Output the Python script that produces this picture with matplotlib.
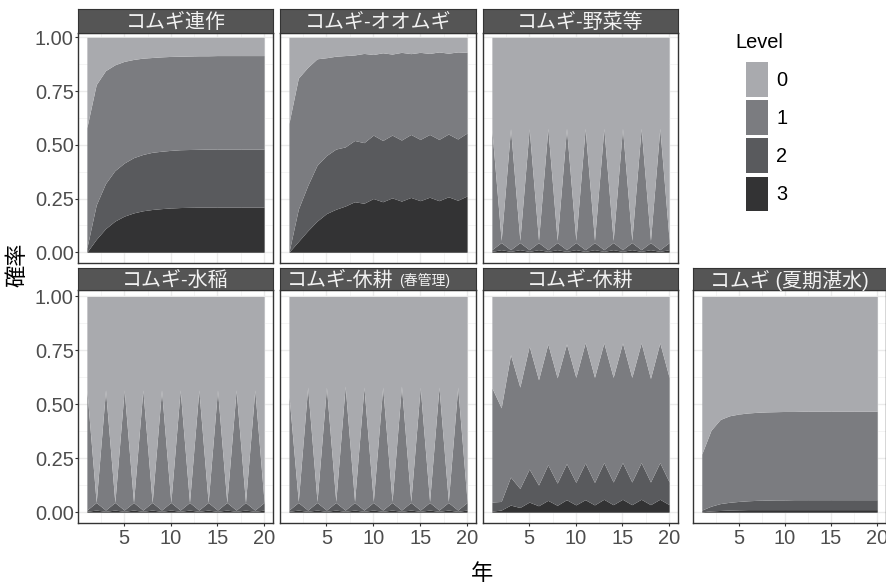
import matplotlib.pyplot as plt
from matplotlib.patches import Patch
from matplotlib.ticker import MultipleLocator

plt.rcParams['font.family'] = ['Liberation Sans', 'Noto Sans CJK JP']

# 年 (x軸)
years = list(range(1, 21))

# 各パネル: ge1 = P(Level>=1), ge2 = P(Level>=2), ge3 = P(Level=3)
renzaku_ge1 = [0.58, 0.78, 0.845, 0.872, 0.888, 0.897, 0.903, 0.906, 0.909, 0.911,
               0.912, 0.913, 0.914, 0.914, 0.915, 0.915, 0.915, 0.915, 0.915, 0.915]
renzaku_ge2 = [0.02, 0.22, 0.32, 0.38, 0.415, 0.44, 0.455, 0.465, 0.47, 0.474,
               0.477, 0.478, 0.479, 0.48, 0.48, 0.48, 0.48, 0.48, 0.48, 0.48]
renzaku_ge3 = [0.0, 0.06, 0.11, 0.145, 0.168, 0.183, 0.193, 0.199, 0.203, 0.206,
               0.208, 0.209, 0.21, 0.21, 0.21, 0.21, 0.21, 0.21, 0.21, 0.21]

oomugi_ge1 = [0.6, 0.81, 0.86, 0.9, 0.905, 0.912, 0.915, 0.918, 0.925, 0.92,
              0.928, 0.922, 0.93, 0.924, 0.93, 0.925, 0.932, 0.926, 0.932, 0.93]
oomugi_ge2 = [0.0, 0.2, 0.31, 0.405, 0.45, 0.48, 0.49, 0.52, 0.51, 0.545,
              0.52, 0.545, 0.522, 0.548, 0.525, 0.548, 0.525, 0.55, 0.527, 0.555]
oomugi_ge3 = [0.0, 0.05, 0.1, 0.145, 0.18, 0.2, 0.215, 0.235, 0.228, 0.25,
              0.235, 0.253, 0.238, 0.255, 0.24, 0.256, 0.24, 0.258, 0.242, 0.262]

yasai_ge1 = [0.57, 0.055, 0.575, 0.055, 0.575, 0.055, 0.577, 0.055, 0.577, 0.055,
             0.577, 0.055, 0.577, 0.055, 0.577, 0.055, 0.577, 0.055, 0.577, 0.055]
yasai_ge2 = [0.012, 0.045, 0.012, 0.045, 0.012, 0.045, 0.012, 0.045, 0.012, 0.045,
             0.012, 0.045, 0.012, 0.045, 0.012, 0.045, 0.012, 0.045, 0.012, 0.045]
yasai_ge3 = [0.004, 0.012, 0.004, 0.012, 0.004, 0.012, 0.004, 0.012, 0.004, 0.012,
             0.004, 0.012, 0.004, 0.012, 0.004, 0.012, 0.004, 0.012, 0.004, 0.012]

suitou_ge1 = [0.567, 0.045, 0.567, 0.045, 0.567, 0.045, 0.567, 0.045, 0.567, 0.045,
              0.567, 0.045, 0.567, 0.045, 0.567, 0.045, 0.567, 0.045, 0.567, 0.045]
suitou_ge2 = [0.01, 0.045, 0.01, 0.045, 0.01, 0.045, 0.01, 0.045, 0.01, 0.045,
              0.01, 0.045, 0.01, 0.045, 0.01, 0.045, 0.01, 0.045, 0.01, 0.045]
suitou_ge3 = [0.004, 0.01, 0.004, 0.01, 0.004, 0.01, 0.004, 0.01, 0.004, 0.01,
              0.004, 0.01, 0.004, 0.01, 0.004, 0.01, 0.004, 0.01, 0.004, 0.01]

harukyu_ge1 = [0.545, 0.05, 0.58, 0.05, 0.58, 0.05, 0.585, 0.05, 0.58, 0.05,
               0.58, 0.05, 0.585, 0.05, 0.58, 0.05, 0.58, 0.05, 0.58, 0.05]
harukyu_ge2 = [0.01, 0.045, 0.01, 0.045, 0.01, 0.045, 0.01, 0.045, 0.01, 0.045,
               0.01, 0.045, 0.01, 0.045, 0.01, 0.045, 0.01, 0.045, 0.01, 0.045]
harukyu_ge3 = [0.004, 0.01, 0.004, 0.01, 0.004, 0.01, 0.004, 0.01, 0.004, 0.01,
               0.004, 0.01, 0.004, 0.01, 0.004, 0.01, 0.004, 0.01, 0.004, 0.01]

kyukou_ge1 = [0.577, 0.484, 0.73, 0.58, 0.77, 0.614, 0.78, 0.623, 0.78, 0.625,
              0.786, 0.625, 0.785, 0.625, 0.785, 0.625, 0.785, 0.62, 0.785, 0.625]
kyukou_ge2 = [0.047, 0.05, 0.163, 0.11, 0.2, 0.126, 0.22, 0.135, 0.225, 0.138,
              0.228, 0.138, 0.23, 0.14, 0.23, 0.14, 0.23, 0.14, 0.23, 0.14]
kyukou_ge3 = [0.005, 0.01, 0.033, 0.022, 0.047, 0.03, 0.055, 0.032, 0.058, 0.034,
              0.058, 0.034, 0.06, 0.035, 0.06, 0.035, 0.06, 0.035, 0.06, 0.035]

tansui_ge1 = [0.27, 0.38, 0.43, 0.447, 0.455, 0.46, 0.463, 0.465, 0.466, 0.467,
              0.467, 0.468, 0.468, 0.468, 0.468, 0.468, 0.468, 0.468, 0.468, 0.468]
tansui_ge2 = [0.01, 0.028, 0.04, 0.046, 0.05, 0.053, 0.055, 0.056, 0.057, 0.057,
              0.058, 0.058, 0.058, 0.058, 0.058, 0.058, 0.058, 0.058, 0.058, 0.058]
tansui_ge3 = [0.002, 0.006, 0.008, 0.01, 0.011, 0.012, 0.012, 0.012, 0.012, 0.012,
              0.012, 0.012, 0.012, 0.012, 0.012, 0.012, 0.012, 0.012, 0.012, 0.012]

levels = ['0', '1', '2', '3']
level_colors = ['#a9aaae', '#7b7c80', '#595a5d', '#333334']

y_ticks = [0, 0.25, 0.5, 0.75, 1.0]
y_tick_labels = ['0.00', '0.25', '0.50', '0.75', '1.00']
x_ticks = [5, 10, 15, 20]

# (タイトル, データ, 行, 列)
panels = [
    ('コムギ連作', renzaku_ge1, renzaku_ge2, renzaku_ge3, 0, 0),
    ('コムギ-オオムギ', oomugi_ge1, oomugi_ge2, oomugi_ge3, 0, 1),
    ('コムギ-野菜等', yasai_ge1, yasai_ge2, yasai_ge3, 0, 2),
    ('コムギ-水稲', suitou_ge1, suitou_ge2, suitou_ge3, 1, 0),
    ('コムギ-休耕', harukyu_ge1, harukyu_ge2, harukyu_ge3, 1, 1),
    ('コムギ-休耕', kyukou_ge1, kyukou_ge2, kyukou_ge3, 1, 2),
    ('コムギ (夏期湛水)', tansui_ge1, tansui_ge2, tansui_ge3, 1, 3),
]

W, H = 886, 586
fig = plt.figure(figsize=(W / 100, H / 100), dpi=100)

col_px = [(78, 273), (280, 476), (483, 678), (693, 886)]
row_px = [(33, 263), (290, 523)]
strip_px = [(9, 33), (268, 290)]
row_ylim = [(-0.05, 1.02), (-0.05, 1.03)]


def px_axes(l, t, r, b):
    return fig.add_axes([l / W, 1 - b / H, (r - l) / W, (b - t) / H])


for i, (title, ge1, ge2, ge3, row, col) in enumerate(panels):
    l, r = col_px[col]
    t, b = row_px[row]
    ax = px_axes(l, t, r, b)
    ax.fill_between(years, 0, ge3, color=level_colors[3], lw=0)
    ax.fill_between(years, ge3, ge2, color=level_colors[2], lw=0)
    ax.fill_between(years, ge2, ge1, color=level_colors[1], lw=0)
    ax.fill_between(years, ge1, 1, color=level_colors[0], lw=0)
    ax.set_xlim(0.05, 20.95)
    ax.set_ylim(*row_ylim[row])
    ax.set_xticks(x_ticks)
    ax.set_yticks(y_ticks, y_tick_labels)
    ax.xaxis.set_minor_locator(MultipleLocator(2.5))
    ax.yaxis.set_minor_locator(MultipleLocator(0.125))
    ax.set_axisbelow(True)
    ax.grid(which='major', color='#ebebeb', lw=1.0)
    ax.grid(which='minor', color='#f3f3f3', lw=0.6)
    for s in ax.spines.values():
        s.set_color('#333333')
        s.set_linewidth(1.0)
    ax.tick_params(which='major', length=2.5, width=0.8, color='#333333',
                   labelsize=14.4, labelcolor='#4d4d4d', pad=0.5)
    ax.tick_params(axis='x', which='major', pad=2)
    ax.tick_params(which='minor', length=0)
    if col != 0:
        ax.tick_params(left=False, labelleft=False)
    if row == 0:
        ax.tick_params(bottom=False, labelbottom=False)

    # ストリップ
    st, sb = strip_px[row]
    sax = px_axes(l, st, r, sb)
    sax.set_facecolor('#555555')
    sax.set_xticks([])
    sax.set_yticks([])
    for s in sax.spines.values():
        s.set_color('#333333')
    if i == 4:
        sax.text(0.577, 0.45, title, ha='right', va='center', color='#f2f2f2',
                 fontsize=14.4, transform=sax.transAxes)
        sax.text(0.607, 0.42, '(春管理)', ha='left', va='center', color='#f2f2f2',
                 fontsize=10, transform=sax.transAxes)
    else:
        sax.text(0.5, 0.45, title, ha='center', va='center', color='#f2f2f2',
                 fontsize=14.4, transform=sax.transAxes)

fig.text(18 / W, 1 - 265 / H, '確率', rotation=90, ha='center', va='center',
         fontsize=16, color='black')
fig.text(482 / W, 1 - 575 / H, '年', ha='center', va='center',
         fontsize=16, color='black')

# 凡例
fig.text(735 / W, 1 - 43 / H, 'Level', ha='left', va='center',
         fontsize=14.4, color='black')
handles = [Patch(facecolor=c, edgecolor='none') for c in level_colors]
fig.legend(handles, levels, loc='upper left',
           bbox_to_anchor=(746 / W, 1 - 62 / H), frameon=False,
           fontsize=14.4, handlelength=1.1,
           handleheight=2.3, handletextpad=0.4, labelspacing=0.17,
           borderpad=0, borderaxespad=0)

fig.savefig('out.png', dpi=100)
